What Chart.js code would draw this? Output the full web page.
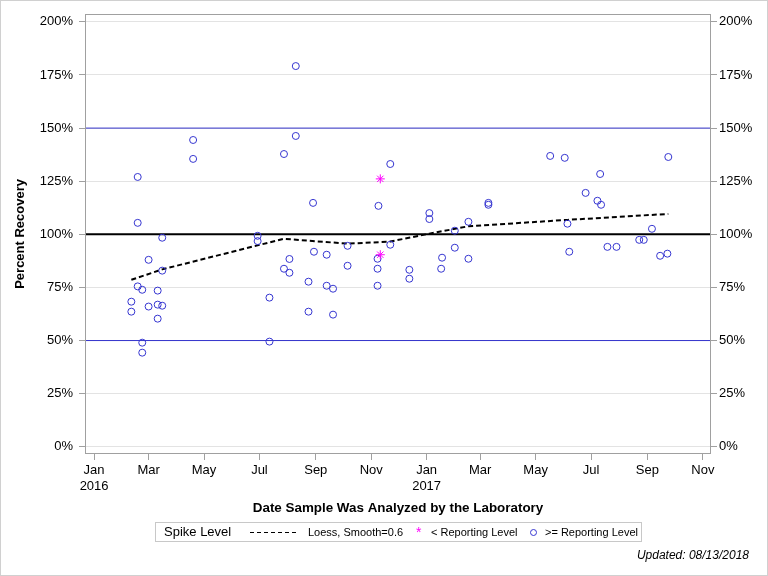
<!DOCTYPE html>
<html><head><meta charset="utf-8">
<script src="https://cdn.jsdelivr.net/npm/chart.js@4/dist/chart.umd.min.js"></script>
<style>
html,body{margin:0;padding:0;background:#fff;}
#wrap{position:relative;width:768px;height:576px;overflow:hidden;font-family:"Liberation Sans",Arial,sans-serif;color:#000;}
#frame{position:absolute;left:0;top:0;width:768px;height:576px;box-sizing:border-box;border:1px solid #d0d0d0;pointer-events:none;}
#legend{position:absolute;left:155px;top:522px;width:487px;height:20px;box-sizing:border-box;border:1px solid #c8c8c8;font-size:11px;}
#legend .t{position:absolute;top:0;line-height:18px;white-space:nowrap;}
#legend .dash{position:absolute;left:94px;top:9px;width:49px;height:1px;background:repeating-linear-gradient(90deg,#000 0 4px,transparent 4px 7px);}
#legend .circ{position:absolute;left:374px;top:6px;width:5px;height:5px;border:1px solid #3535d0;border-radius:50%;}
#updated{position:absolute;right:19px;top:548px;font-style:italic;font-size:12px;line-height:15px;white-space:nowrap;}
</style></head>
<body>
<div id="wrap">
<canvas id="c" width="768" height="576"></canvas>
<div id="legend">
 <span class="t" style="left:8px;font-size:13px;">Spike Level</span>
 <span class="dash"></span>
 <span class="t" style="left:152px;">Loess, Smooth=0.6</span>
 <span class="t" style="left:260px;color:#ff00ff;font-size:14px;">*</span>
 <span class="t" style="left:275px;">&lt; Reporting Level</span>
 <span class="circ"></span>
 <span class="t" style="left:389px;">&gt;= Reporting Level</span>
</div>
<div id="updated">Updated: 08/13/2018</div>
<div id="frame"></div>
</div>
<script>
// ---- data ----
const detectDates = [
 '2016-02-11','2016-02-11',
 '2016-02-18','2016-02-18','2016-02-18',
 '2016-02-23','2016-02-23','2016-02-23',
 '2016-03-01','2016-03-01',
 '2016-03-11','2016-03-11','2016-03-11',
 '2016-03-16','2016-03-16','2016-03-16',
 '2016-04-19','2016-04-19',
 '2016-06-29','2016-06-29',
 '2016-07-12','2016-07-12',
 '2016-07-28','2016-07-28',
 '2016-08-03','2016-08-03',
 '2016-08-10','2016-08-10',
 '2016-08-24','2016-08-24',
 '2016-08-29','2016-08-30',
 '2016-09-13','2016-09-13',
 '2016-09-20','2016-09-20',
 '2016-10-06','2016-10-06',
 '2016-11-08','2016-11-08','2016-11-08',
 '2016-11-09',
 '2016-11-22','2016-11-22',
 '2016-12-13','2016-12-13',
 '2017-01-04','2017-01-04',
 '2017-01-17','2017-01-18',
 '2017-02-01','2017-02-01',
 '2017-02-16','2017-02-16',
 '2017-03-10','2017-03-10',
 '2017-05-17','2017-06-02','2017-06-05','2017-06-07','2017-06-25',
 '2017-07-08','2017-07-11','2017-07-12','2017-07-19','2017-07-29',
 '2017-08-23','2017-08-28','2017-09-06','2017-09-15','2017-09-23','2017-09-24'
];
const detectValues = [
 68.3,63.6,
 127.0,105.4,75.5,
 73.9,49.0,44.3,
 88.0,66.0,
 73.5,66.9,60.3,
 98.4,82.9,66.4,
 144.4,135.5,
 99.3,96.8,
 70.2,49.5,
 137.8,83.8,
 88.4,81.9,
 179.2,146.3,
 77.7,63.6,
 114.8,91.8,
 90.4,75.8,
 74.4,62.2,
 94.6,85.2,
 88.5,83.8,75.8,
 113.4,
 133.1,95.1,
 83.3,79.1,
 110.0,107.2,
 83.8,89.0,
 101.7,93.7,
 105.9,88.5,
 114.8,113.9,
 136.9,136.0,105.0,91.8,119.5,
 115.8,128.4,113.9,94.1,94.1,
 97.4,97.4,102.6,89.9,90.9,136.4
];
const nondetectDates = ['2016-11-11','2016-11-11'];
const nondetectValues = [126.1, 90.4];
const loessDates = ['2016-02-11','2016-03-16','2016-06-29','2016-07-28','2016-10-06','2016-11-22','2017-01-04','2017-02-16','2017-06-05','2017-09-24'];
const loessValues = [78.6, 83.5, 94.8, 97.9, 95.6, 96.6, 100.3, 103.8, 106.8, 109.6];
const spikeLevel = 100;
const limitLevels = [50, 150];
const xTickDates = ['2016-01-01','2016-03-01','2016-05-01','2016-07-01','2016-09-01','2016-11-01','2017-01-01','2017-03-01','2017-05-01','2017-07-01','2017-09-01','2017-11-01'];
const xTickLabels = [['Jan','2016'],'Mar','May','Jul','Sep','Nov',['Jan','2017'],'Mar','May','Jul','Sep','Nov'];
const yTicks = [0,25,50,75,100,125,150,175,200];
const xRange = ['2015-12-22','2017-11-10'];
const yRange = [-3.4, 203.8];

// ---- helpers ----
const ORIGIN = Date.UTC(2016,0,1);
function dayNum(s){const p=s.split('-').map(Number);return (Date.UTC(p[0],p[1]-1,p[2])-ORIGIN)/86400000;}
const xMin = dayNum(xRange[0]), xMax = dayNum(xRange[1]);
const pts = (ds, vs) => ds.map((d,i)=>({x:dayNum(d), y:vs[i]}));
const hline = v => [{x:xMin,y:v},{x:xMax,y:v}];

const FONT = '"Liberation Sans", Arial, sans-serif';
const AXC = '#a0a0a0';

const framePlugin = {
  id:'frame',
  afterDraw(chart){
    const {ctx, chartArea:a} = chart;
    ctx.save();
    ctx.strokeStyle = AXC; ctx.lineWidth = 1;
    ctx.strokeRect(Math.round(a.left)+0.5, Math.round(a.top)+0.5, Math.round(a.right-a.left)-1, Math.round(a.bottom-a.top)-1);
    ctx.restore();
  }
};

const yScale = (pos) => ({
  type:'linear', position:pos, min:yRange[0], max:yRange[1],
  afterBuildTicks: s => { s.ticks = yTicks.map(v=>({value:v})); },
  afterFit: s => { s.width = pos==='left' ? 85 : 57; },
  ticks:{ callback: v => v + '%', color:'#000', font:{family:FONT,size:13}, padding:pos==='left'?6:2 },
  grid:{ drawOnChartArea: pos==='left', color:'#e3e3e3', tickColor:AXC, tickLength:6 },
  border:{ display:false },
  title: pos==='left' ? { display:true, text:'Percent Recovery', color:'#000', font:{family:FONT,size:13,weight:'bold',lineHeight:1.2}, padding:{top:13,bottom:0} } : {display:false}
});

new Chart(document.getElementById('c'), {
  data:{
    datasets:[
      { type:'scatter', label:'>= Reporting Level', data:pts(detectDates, detectValues), pointStyle:'circle', pointRadius:3.5, borderColor:'#3535d0', backgroundColor:'rgba(0,0,0,0)', borderWidth:1, order:1 },
      { type:'scatter', label:'< Reporting Level', data:pts(nondetectDates, nondetectValues), pointStyle:'star', pointRadius:4.5, borderColor:'#ff00ff', backgroundColor:'#ff00ff', borderWidth:1, order:0 },
      { type:'line', label:'Loess, Smooth=0.6', data:pts(loessDates, loessValues), borderColor:'#000', borderWidth:2, borderDash:[5,3], pointRadius:0, tension:0, fill:false, order:2 },
      { type:'line', label:'Spike Level', data:hline(spikeLevel), borderColor:'#000', borderWidth:2, pointRadius:0, fill:false, order:3 },
      { type:'line', label:'Lower limit', data:hline(limitLevels[0]), borderColor:'#3333cc', borderWidth:1, pointRadius:0, fill:false, order:3 },
      { type:'line', label:'Upper limit', data:hline(limitLevels[1]), borderColor:'#3333cc', borderWidth:1, pointRadius:0, fill:false, order:3 }
    ]
  },
  options:{
    responsive:false, animation:false,
    layout:{ padding:{ top:13, left:0, right:0, bottom:0 } },
    plugins:{ legend:{display:false}, tooltip:{enabled:false} },
    scales:{
      x:{
        type:'linear', position:'bottom', min:xMin, max:xMax,
        afterBuildTicks: s => { s.ticks = xTickDates.map(d=>({value:dayNum(d)})); },
        afterFit: s => { s.height = 122; },
        ticks:{ callback:(v,i)=>xTickLabels[i], autoSkip:false, maxRotation:0, color:'#000', font:{family:FONT,size:13,lineHeight:1.2}, padding:3 },
        grid:{ drawOnChartArea:false, tickColor:AXC, tickLength:6 },
        border:{ display:false },
        title:{ display:true, text:'Date Sample Was Analyzed by the Laboratory', color:'#000', font:{family:FONT,size:13.4,weight:'bold',lineHeight:1.2}, padding:{top:0,bottom:60} }
      },
      y: yScale('left'),
      y2: yScale('right')
    }
  },
  plugins:[framePlugin]
});
</script>
</body></html>
